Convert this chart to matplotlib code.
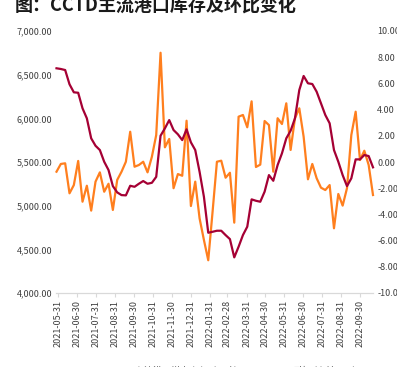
import matplotlib
matplotlib.use("Agg")
import matplotlib.pyplot as plt
import numpy as np
import pandas as pd

plt.rcParams['font.family'] = ['Noto Sans CJK SC', 'DejaVu Sans']

# 周度数据：CCTD主流港口煤炭库存（万吨）与环比（%）
dates = pd.date_range('2021-05-28', periods=74, freq='7D')

inventory = [
    6573, 6565, 6553, 6390, 6298, 6293, 6115, 6000, 5771, 5686,
    5637, 5503, 5408, 5224, 5152, 5121, 5118, 5228, 5216, 5251,
    5282, 5251, 5262, 5330, 5801, 5885, 5980, 5866, 5817, 5751,
    5874, 5725, 5637, 5388, 5102, 4690, 4701, 4713, 4713, 4663,
    4617, 4408, 4530, 4663, 4759, 5072, 5056, 5045, 5160, 5350,
    5285, 5465, 5599, 5771, 5858, 6000, 6324, 6485, 6401, 6393,
    6305, 6172, 6038, 5943, 5637, 5503, 5350, 5224, 5313, 5530,
    5530, 5580, 5568, 5439,
]

wow_change = [
    -0.74, -0.15, -0.10, -2.39, -1.76, 0.08, -3.03, -1.81, -3.71, -1.50,
    -0.79, -2.27, -1.66, -3.66, -1.37, -0.74, 0.02, 2.31, -0.36, -0.23,
    0.02, -0.79, 0.40, 2.06, 8.34, 1.12, 1.76, -2.00, -0.92, -1.05,
    3.15, -3.36, -1.50, -4.30, -5.95, -7.50, -3.79, 0.02, 0.10, -1.20,
    -0.82, -4.63, 3.46, 3.59, 2.65, 4.63, -0.38, -0.20, 3.13, 2.82,
    -0.74, 3.34, 2.90, 4.48, 0.92, 3.34, 4.10, 1.93, -1.32, -0.15,
    -1.24, -1.96, -2.14, -1.76, -5.06, -2.44, -3.33, -2.00, 2.06, 3.84,
    0.15, 0.86, -0.23, -2.52,
]

tick_dates = pd.date_range('2021-05-31', '2022-09-30', freq='ME')

c_inv = '#A50034'
c_wow = '#FF7F1E'
txt = '#404040'

fig = plt.figure(figsize=(3.97, 3.67), dpi=100)
W, H = 397, 367
ax = fig.add_axes([56.5 / W, 1 - 293 / H, (373 - 56.5) / W, (293 - 31) / H])
ax2 = ax.twinx()

l1, = ax.plot(dates, inventory, color=c_inv, lw=1.6, label='CCTD主流港口煤炭库存（万吨）', clip_on=False)
l2, = ax2.plot(dates, wow_change, color=c_wow, lw=1.6, label='环比（右轴，%）', clip_on=False)
ax.set_zorder(ax2.get_zorder() + 1)
ax.patch.set_visible(False)

ax.set_ylim(4000, 7000)
ax.set_yticks(np.arange(4000, 7001, 500))
ax.yaxis.set_major_formatter(matplotlib.ticker.FuncFormatter(lambda v, p: f'{v:,.2f}'))
ax2.set_ylim(-10, 10)
ax2.set_yticks(np.arange(-10, 10.1, 2))
ax2.yaxis.set_major_formatter(matplotlib.ticker.FuncFormatter(lambda v, p: f'{v:.2f}'))

ax.set_xlim(dates[0], dates[-1])
ax.set_xticks(tick_dates)
ax.set_xticklabels([d.strftime('%Y-%m-%d') for d in tick_dates], rotation=90)

for a in (ax, ax2):
    for s in ('top', 'left', 'right'):
        a.spines[s].set_visible(False)
    a.spines['bottom'].set_color('#d9d9d9')
    a.tick_params(axis='y', length=0, labelsize=6.5, colors=txt, pad=3)
ax.tick_params(axis='x', length=3, color='#d9d9d9', labelsize=6.5, labelcolor=txt, pad=2)

fig.text(15 / W, 1 - 6.5 / H, '图：CCTD主流港口库存及环比变化', fontsize=13,
         fontweight='bold', color='#1a1a1a', ha='left', va='center')

fig.legend(handles=[l1, l2], loc='center', bbox_to_anchor=(0.56, 1 - 371 / H),
           ncol=2, frameon=False, fontsize=6.5, labelcolor=txt,
           handlelength=2.5, columnspacing=2)

fig.savefig('out.png', dpi=100)
